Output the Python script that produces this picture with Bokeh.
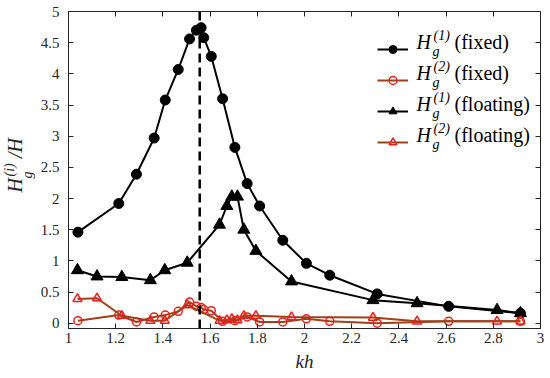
from bokeh.plotting import figure
from bokeh.models import Span, Label, Legend, LegendItem, LinearAxis, FixedTicker, CustomJSTickFormatter, Title
from bokeh.embed import file_html
from bokeh.resources import INLINE

# H_g^(1) fixed
kh_fix1 = [1.04, 1.213, 1.288, 1.363, 1.41, 1.465, 1.513, 1.542, 1.562, 1.573, 1.605, 1.653, 1.705, 1.757, 1.81, 1.908, 2.008, 2.107, 2.308, 2.611, 2.915]
H_fix1 = [1.46, 1.92, 2.39, 2.97, 3.58, 4.07, 4.56, 4.70, 4.74, 4.58, 4.28, 3.60, 2.82, 2.24, 1.88, 1.33, 0.96, 0.77, 0.47, 0.27, 0.16]
# H_g^(2) fixed
kh_fix2 = kh_fix1
H_fix2 = [0.04, 0.13, 0.02, 0.10, 0.13, 0.19, 0.34, 0.27, 0.25, 0.22, 0.20, 0.03, 0.04, 0.10, 0.02, 0.02, 0.07, 0.03, 0.00, 0.03, 0.03]
# H_g^(1) floating
kh_flo1 = [1.038, 1.121, 1.226, 1.347, 1.408, 1.503, 1.640, 1.671, 1.692, 1.716, 1.743, 1.794, 1.945, 2.290, 2.477, 2.816, 2.915]
H_flo1 = [0.85, 0.75, 0.74, 0.69, 0.85, 0.97, 1.58, 1.88, 2.03, 2.03, 1.50, 1.16, 0.67, 0.37, 0.32, 0.21, 0.16]
# H_g^(2) floating
kh_flo2 = kh_flo1
H_flo2 = [0.39, 0.40, 0.12, 0.04, 0.04, 0.29, 0.04, 0.05, 0.07, 0.05, 0.12, 0.12, 0.10, 0.09, 0.03, 0.03, 0.03]

kh_res = 1.556
x_ticks = [1, 1.2, 1.4, 1.6, 1.8, 2, 2.2, 2.4, 2.6, 2.8, 3]
y_ticks = [0, 0.5, 1, 1.5, 2, 2.5, 3, 3.5, 4, 4.5, 5]
legend_sup = ["(1)", "(2)", "(1)", "(2)"]
legend_case = ["(fixed)", "(fixed)", "(floating)", "(floating)"]

FONT = "'Liberation Serif'"
BROWN = "#A0401A"
RED = "#E8201A"
AX = "#262626"
NBSP = "\u00a0"

p = figure(width=548, height=376, x_range=(1, 3), y_range=(-0.085, 5),
           output_backend="svg", toolbar_location=None,
           min_border_left=68, min_border_right=8, min_border_top=11, min_border_bottom=48)
p.grid.visible = False
p.outline_line_color = AX
p.background_fill_color = "white"

xb = p.below[0]
yl = p.left[0]
xt = LinearAxis()
yr = LinearAxis()
p.add_layout(xt, "above")
p.add_layout(yr, "right")

for ax in [xb, yl, xt, yr]:
    ax.major_tick_in = 5
    ax.major_tick_out = 0
    ax.minor_tick_line_color = None
    ax.axis_line_color = AX
    ax.major_tick_line_color = AX
    ax.major_label_text_font = FONT
    ax.major_label_text_font_size = "15px"
    ax.major_label_text_color = AX
xb.ticker = FixedTicker(ticks=x_ticks)
xt.ticker = FixedTicker(ticks=x_ticks)
yl.ticker = FixedTicker(ticks=y_ticks)
yr.ticker = FixedTicker(ticks=y_ticks)
for ax in [xt, yr]:
    ax.formatter = CustomJSTickFormatter(code="return ''")
    ax.major_label_standoff = 0
    ax.axis_line_color = None

xb.major_label_standoff = 4
yl.major_label_standoff = 9
xb.axis_label = "kh"
xb.axis_label_text_font = FONT
xb.axis_label_text_font_style = "italic"
xb.axis_label_text_font_size = "19px"
xb.axis_label_text_color = AX
xb.axis_label_standoff = 5

l1 = p.line(kh_fix1, H_fix1, line_color="black", line_width=2)
m1 = p.scatter(kh_fix1, H_fix1, marker="circle", size=10, fill_color="black", line_color="black")
l3 = p.line(kh_flo1, H_flo1, line_color="black", line_width=2)
m3 = p.scatter(kh_flo1, H_flo1, marker="triangle", size=12, fill_color="black", line_color="black")
l2 = p.line(kh_fix2, H_fix2, line_color=BROWN, line_width=2)
m2 = p.scatter(kh_fix2, H_fix2, marker="circle", size=8, fill_color=None, line_color=RED, line_width=1.5)
l4 = p.line(kh_flo2, H_flo2, line_color=BROWN, line_width=2)
m4 = p.scatter(kh_flo2, H_flo2, marker="triangle", size=9, fill_color=None, line_color=RED, line_width=1.5)

p.add_layout(Span(location=kh_res, dimension="height", line_color="black", line_width=2.5, line_dash="9 5"))

legend = Legend(items=[LegendItem(label=" ", renderers=[l1, m1]),
                       LegendItem(label=" ", renderers=[l2, m2]),
                       LegendItem(label=" ", renderers=[l3, m3]),
                       LegendItem(label=" ", renderers=[l4, m4])],
                location=(309, 176), background_fill_alpha=0, border_line_color=None,
                glyph_width=31, glyph_height=20, spacing=11, label_text_font_size="8px",
                label_width=1, label_standoff=0, padding=0, margin=0)
p.add_layout(legend)

# legend texts (screen units, relative to the plot frame)
row_y = [287, 256, 225, 194]
for ry, sup, case in zip(row_y, legend_sup, legend_case):
    p.add_layout(Label(x=348, y=ry, x_units="screen", y_units="screen", text="H",
                       text_font=FONT, text_font_style="italic", text_font_size="20px",
                       text_baseline="middle", text_color="black"))
    p.add_layout(Label(x=365, y=ry + 6, x_units="screen", y_units="screen", text=sup,
                       text_font=FONT, text_font_style="italic", text_font_size="14px",
                       text_baseline="middle", text_color="black"))
    p.add_layout(Label(x=364, y=ry - 10, x_units="screen", y_units="screen", text="g",
                       text_font=FONT, text_font_style="italic", text_font_size="14px",
                       text_baseline="middle", text_color="black"))
    p.add_layout(Label(x=386, y=ry, x_units="screen", y_units="screen", text=case,
                       text_font=FONT, text_font_size="20px",
                       text_baseline="middle", text_color="black"))

# y-axis label H_g^(i)/H built from titles on the left side
p.add_layout(Title(text="g", text_font=FONT, text_font_style="italic", text_font_size="14px",
                   text_color=AX, align="left", offset=150, standoff=6,
                   vertical_align="bottom"), "left")
p.add_layout(Title(text="H" + NBSP * 4 + "/H", text_font=FONT, text_font_style="italic",
                   text_font_size="20px", text_color=AX, align="left", offset=136, standoff=-22,
                   vertical_align="bottom"), "left")
p.add_layout(Title(text="(i)", text_font=FONT, text_font_style="italic", text_font_size="14px",
                   text_color=AX, align="left", offset=152, standoff=-9,
                   vertical_align="bottom"), "left")

open("out.html", "w").write(file_html(p, INLINE))
